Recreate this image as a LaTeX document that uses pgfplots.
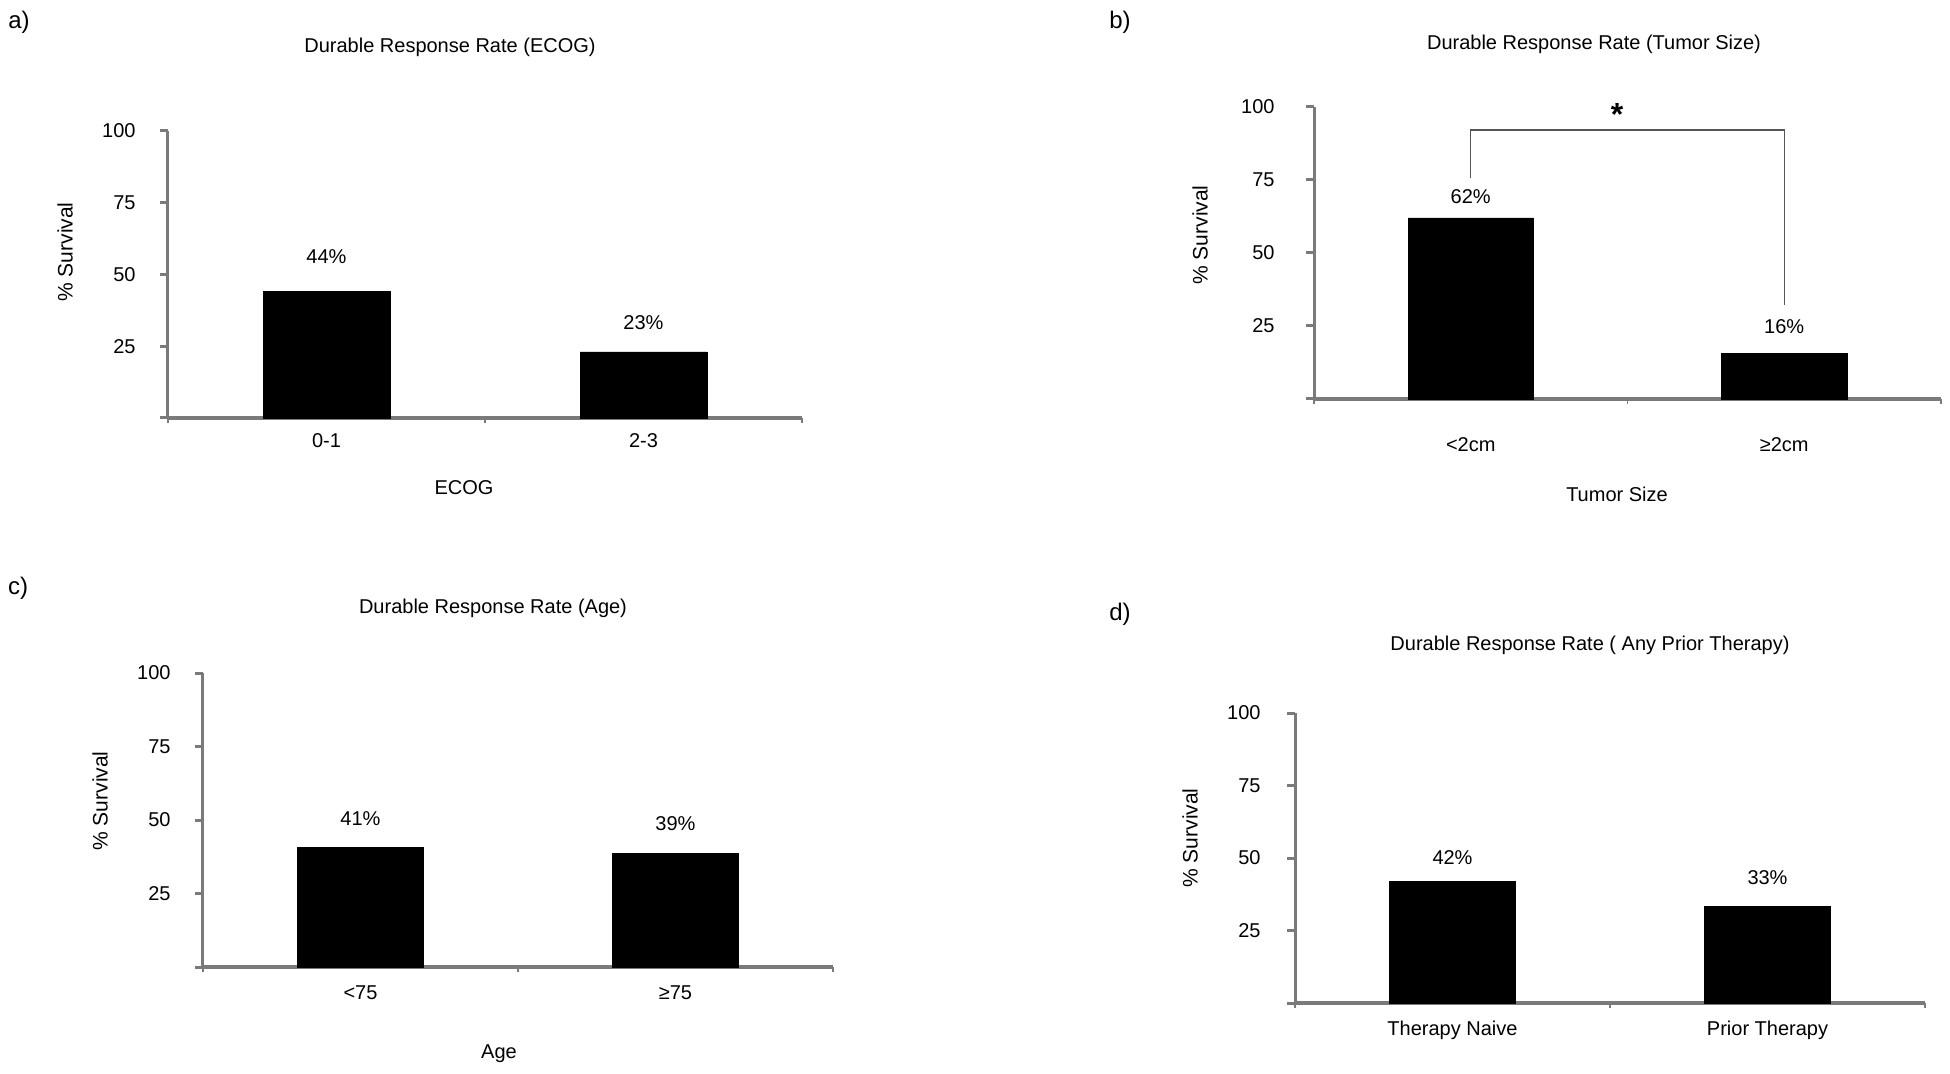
\documentclass[border=0pt]{standalone}
\usepackage{fontspec}
\setmainfont{Liberation Sans}
\usepackage{pgfplots}
\pgfplotsset{compat=1.18}
\definecolor{axgray}{HTML}{7A7A7A}
\definecolor{brgray}{HTML}{555555}

\tikzset{vlab/.style={anchor=base, font=\fontsize{10}{12}\selectfont}}
\pgfplotsset{
  drr/.style={
    scale only axis,
    anchor=south west,
    xmin=-0.5, xmax=1.5,
    ymin=0, ymax=100,
    axis lines=left,
    axis line style={-, axgray},
    x axis line style={line width=2pt},
    y axis line style={line width=1.5pt},
    xtick={0,1},
    ytick={0,25,50,75,100},
    yticklabels={,25,50,75,100},
    major x tick style={draw=none},
    minor xtick={-0.5,0.5,1.5},
    minor x tick style={axgray, line width=0.8pt},
    minor tick length=2.5pt,
    y tick style={axgray, line width=1.5pt},
    major tick length=4pt,
    tick align=outside,
    tick label style={font=\fontsize{10}{12}\selectfont, inner sep=0pt},
    /pgf/number format/assume math mode=true,
    clip=false,
  },
}

\begin{document}
\begin{tikzpicture}
\useasboundingbox (0,0) rectangle (975pt,-537pt);

% ---------- a) ECOG ----------
\begin{axis}[drr, at={(84pt,-209pt)}, width=317pt, height=143.5pt,
  xticklabels={0-1,2-3},
  yticklabel style={anchor=east, xshift=-12pt},
  xticklabel style={anchor=base, yshift=-11pt}]
\addplot[ybar, bar width=0.4, fill=black, draw=black] coordinates {(0,44) (1,23)};
\node[vlab] at (axis cs:0,53.7) {44\%};
\node[vlab] at (axis cs:1,30.7) {23\%};
\end{axis}

% ---------- b) Tumor size ----------
\begin{axis}[drr, at={(657pt,-199.5pt)}, width=313.5pt, height=146pt,
  xticklabels={<2cm,≥2cm},
  yticklabel style={anchor=east, xshift=-15.5pt},
  xticklabel style={anchor=base, yshift=-22.5pt}]
\addplot[ybar, bar width=0.4, fill=black, draw=black] coordinates {(0,62) (1,15.6)};
\draw[brgray, line width=0.7pt] (axis cs:0,75.7) -- (axis cs:0,92.1) -- (axis cs:1,92.1) -- (axis cs:1,32.2);
\node[vlab] at (axis cs:0,66.8) {62\%};
\node[vlab] at (axis cs:1,22.3) {16\%};
\end{axis}

% ---------- c) Age ----------
\begin{axis}[drr, at={(101.5pt,-483.5pt)}, width=315pt, height=147pt,
  xticklabels={<75,≥75},
  yticklabel style={anchor=east, xshift=-12pt},
  xticklabel style={anchor=base, yshift=-12pt}]
\addplot[ybar, bar width=0.4, fill=black, draw=black] coordinates {(0,40.6) (1,38.6)};
\node[vlab] at (axis cs:0,48.3) {41\%};
\node[vlab] at (axis cs:1,46.3) {39\%};
\end{axis}

% ---------- d) Prior therapy ----------
\begin{axis}[drr, at={(647.5pt,-501.5pt)}, width=315pt, height=145pt,
  xticklabels={Therapy Naive,Prior Therapy},
  yticklabel style={anchor=east, xshift=-13pt},
  xticklabel style={anchor=base, yshift=-12pt}]
\addplot[ybar, bar width=0.4, fill=black, draw=black] coordinates {(0,42) (1,33.3)};
\node[vlab] at (axis cs:0,47.9) {42\%};
\node[vlab] at (axis cs:1,40.7) {33\%};
\end{axis}

% ---------- annotations in pixel coordinates ----------
\begin{scope}[x=0.5pt, y=-0.5pt]
  \begin{scope}[every node/.style={anchor=base, font=\fontsize{12}{14}\selectfont}]
    \node at (19,29) {a)};
    \node at (1120,29) {b)};
    \node at (18,595) {c)};
    \node at (1120,621) {d)};
  \end{scope}
  \begin{scope}[every node/.style={anchor=base, font=\fontsize{10}{12}\selectfont}]
    \node at (450,53) {Durable Response Rate (ECOG)};
    \node at (1594,50) {Durable Response Rate (Tumor Size)};
    \node at (493,614) {Durable Response Rate (Age)};
    \node at (1590,651) {Durable Response Rate ( Any Prior Therapy)};
    \node at (464,495) {ECOG};
    \node at (1617,502) {Tumor Size};
    \node at (499,1058) {Age};
  \end{scope}
  \begin{scope}[every node/.style={rotate=90, anchor=center, font=\fontsize{10.5}{12}\selectfont}]
    \node at (65,252) {\% Survival};
    \node at (1200,235) {\% Survival};
    \node at (100,801) {\% Survival};
    \node at (1190,838) {\% Survival};
  \end{scope}
  \node[anchor=base, font=\fontsize{16}{16}\selectfont\bfseries] at (1617,126) {*};
\end{scope}
\end{tikzpicture}
\end{document}
